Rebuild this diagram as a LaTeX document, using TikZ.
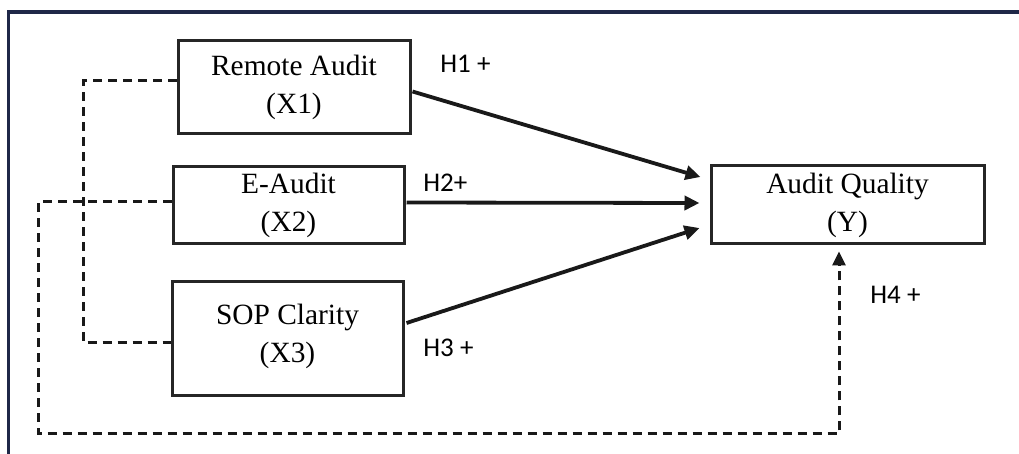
\documentclass[tikz,border=0pt]{standalone}
\usepackage{fontspec}
\setmainfont{Liberation Serif}
\newfontfamily\hfont{Carlito}
\usetikzlibrary{arrows.meta,calc}
\tikzset{
  varbox/.style={draw=black!85, line width=1.5pt, inner sep=0pt, align=center,
    font=\fontsize{14.7pt}{19pt}\selectfont},
  pathline/.style={line width=1.9pt, black!90, -{Triangle[length=7.5pt,width=7pt]}},
  modline/.style={line width=1.5pt, black!90, dash pattern=on 4.5pt off 3pt},
  hlabel/.style={font=\hfont\fontsize{13.5pt}{15pt}\selectfont, anchor=west, inner sep=0pt},
  frame/.style={line width=1.6pt, draw={rgb,255:red,31;green,40;blue,72}}
}
\begin{document}
\begin{tikzpicture}[x=0.5pt,y=-0.5pt]
\useasboundingbox (0,0) rectangle (1019,454);
\draw[frame] (8.5,454) -- (8.5,12) -- (1019,12);

\node[varbox, minimum width=116pt, minimum height=46.5pt] (ra) at (294,87.5) {Remote Audit\\(X1)};
\node[varbox, minimum width=115.5pt, minimum height=38.5pt] (ea) at (288.5,205.5) {E-Audit\\(X2)};
\node[varbox, minimum width=115.5pt, minimum height=57pt] (sop) at (287.5,339) {SOP Clarity\\(X3)\\[-13pt]};
\node[varbox, minimum width=136.5pt, minimum height=39pt] (aq) at (847.5,205) {Audit Quality\\(Y)};

\draw[pathline] ($(ra.east)+(1,4)$) -- ($(aq.west)+(-9,-28)$);
\draw[pathline] ($(ea.east)+(1,-3)$) -- ($(aq.west)+(-10,-2)$);
\draw[pathline] ($(sop.east)+(2,-16)$) -- ($(aq.west)+(-10,23)$);

\coordinate (c1) at (38,434);
\coordinate (c2) at (839,434);
\coordinate (c3) at (83,343);
\draw[modline] ($(ra.west)+(0,-6.5)$) -| (c3) -- (c3 -| sop.west);
\draw[modline, -{Triangle[length=7pt,width=6.5pt]}] ($(ea.west)+(0,-3.5)$) -| (c1) -- (c2) -- ($(aq.south)+(-8.5,6)$);

\node[hlabel] (h1) at (440,64) {H1 +};
\node[hlabel] (h2) at (423,183) {H2+};
\node[hlabel] (h3) at (423,348) {H3 +};
\node[hlabel] (h4) at (870,295) {H4 +};
\end{tikzpicture}
\end{document}
